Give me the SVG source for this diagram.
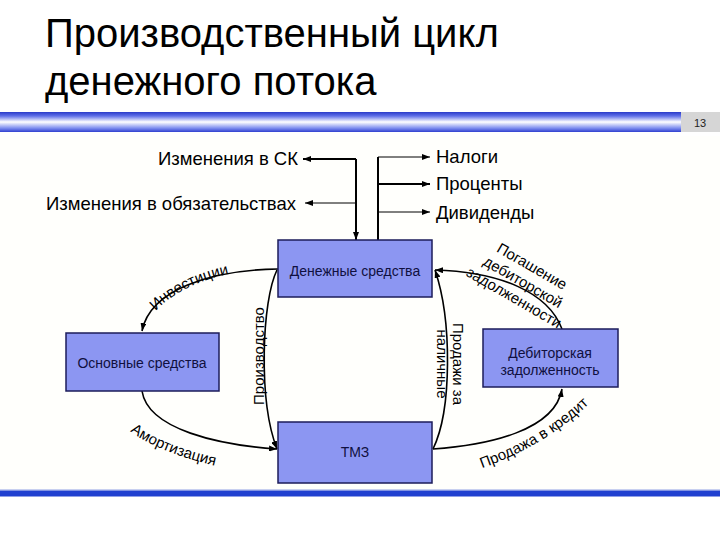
<svg xmlns="http://www.w3.org/2000/svg" width="720" height="540" viewBox="0 0 720 540">
<style>
.title{font-family:"Liberation Sans",Arial,sans-serif;font-size:40px;fill:#000}
.lbl{font-family:"Liberation Sans",Arial,sans-serif;font-size:18.5px;fill:#000}
.box{fill:#8c96f2;stroke:#1c1c5a;stroke-width:1.5}
.bt{font-family:"Liberation Sans",Arial,sans-serif;font-size:14px;fill:#101040;text-anchor:middle}
.cl{font-family:"Liberation Sans",Arial,sans-serif;font-size:15px;fill:#000}
.c{fill:none;stroke:#000;stroke-width:1.6}
.thin{fill:none;stroke:#000;stroke-width:1}
.thick{fill:none;stroke:#000;stroke-width:2}
</style>
<defs>
<linearGradient id="bar" x1="0" y1="0" x2="0" y2="1">
<stop offset="0" stop-color="#2a3ac8"/>
<stop offset="0.2" stop-color="#6070e8"/>
<stop offset="0.5" stop-color="#ffffff"/>
<stop offset="0.8" stop-color="#8090f0"/>
<stop offset="1" stop-color="#3040d0"/>
</linearGradient>
<marker id="ah" viewBox="0 0 8 6" refX="8" refY="3" markerWidth="8" markerHeight="6" markerUnits="userSpaceOnUse" orient="auto">
<path d="M0,0 L8,3 L0,6 z" fill="#000"/>
</marker>
<path id="p-inv" d="M144,330 C156,298 201,276 251,270"/>
<path id="p-am" d="M122,425 C145,445 180,458 225,468"/>
<path id="p-cr" d="M470,472 C510,460 560,435 598,395"/>
</defs>
<rect x="0" y="0" width="720" height="540" fill="#ffffff"/>
<rect x="0" y="136" width="720" height="354" fill="#fffffc"/>
<text class="title" x="45" y="47">Производственный цикл</text>
<text class="title" x="45" y="95">денежного потока</text>
<rect x="0" y="112" width="681" height="20" fill="url(#bar)"/>
<rect x="681" y="112" width="39" height="20" fill="#d6d6d6"/>
<text x="700" y="127" font-family="Liberation Sans,Arial,sans-serif" font-size="11" text-anchor="middle" fill="#222">13</text>
<rect x="0" y="489" width="720" height="1.5" fill="#c8d0f0"/>
<rect x="0" y="490.5" width="720" height="6" fill="#2040d0"/>

<g id="connectors">
<path class="thick" d="M356,159 L356,240" marker-end="url(#ah)"/>
<path class="thick" d="M356,159 L303,159" marker-end="url(#ah)"/>
<path class="thin" d="M356,203 L305,203" marker-end="url(#ah)"/>
<path class="thick" d="M378,240 L378,157"/>
<path class="thin" d="M378,157 L430,157" marker-end="url(#ah)"/>
<path class="thick" d="M378,184 L430,184" marker-end="url(#ah)"/>
<path class="thin" d="M378,212 L430,212" marker-end="url(#ah)"/>
<path class="c" d="M278,269 C210,270 150,290 142,331" marker-end="url(#ah)"/>
<path class="c" d="M277,270 C262,300 258,400 277,449" marker-end="url(#ah)"/>
<path class="c" d="M142,391 C148,430 220,445 277,449" marker-end="url(#ah)"/>
<path class="c" d="M433,449 C452,410 452,320 435,270" marker-end="url(#ah)"/>
<path class="c" d="M562,329 C548,292 500,272 435,270" marker-end="url(#ah)"/>
<path class="c" d="M433,449 C490,445 555,430 562,389" marker-end="url(#ah)"/>
<text class="lbl" x="298" y="165" text-anchor="end">Изменения в СК</text>
<text class="lbl" x="296" y="210" text-anchor="end">Изменения в обязательствах</text>
<text class="lbl" x="436" y="163">Налоги</text>
<text class="lbl" x="436" y="190">Проценты</text>
<text class="lbl" x="436" y="219">Дивиденды</text>
<text class="cl"><textPath href="#p-inv" startOffset="50%" text-anchor="middle">Инвестиции</textPath></text>
<text class="cl"><textPath href="#p-am" startOffset="50%" text-anchor="middle">Амортизация</textPath></text>
<text class="cl"><textPath href="#p-cr" startOffset="50%" text-anchor="middle">Продажа в кредит</textPath></text>
<text class="cl" transform="translate(264,356) rotate(-90)" text-anchor="middle">Производство</text>
<g class="cl" transform="translate(453,364) rotate(90)" text-anchor="middle">
<text x="0" y="0">Продажи за</text>
<text x="0" y="16">наличные</text>
</g>
<g class="cl" transform="translate(523,282) rotate(30)" text-anchor="middle">
<text x="0" y="-13">Погашение</text>
<text x="0" y="5">дебиторской</text>
<text x="0" y="23">задолженности</text>
</g>
</g>

<g id="node-cash">
<rect class="box" x="278" y="240" width="154" height="57"/>
<text class="bt" x="355" y="276">Денежные средства</text>
</g>
<g id="node-fixed">
<rect class="box" x="66" y="333" width="153" height="58"/>
<text class="bt" x="142" y="368">Основные средства</text>
</g>
<g id="node-inv">
<rect class="box" x="278" y="422" width="154" height="61"/>
<text class="bt" x="355" y="457">ТМЗ</text>
</g>
<g id="node-rec">
<rect class="box" x="483" y="329" width="135" height="58"/>
<text class="bt" x="550" y="358">Дебиторская</text>
<text class="bt" x="550" y="375">задолженность</text>
</g>
</svg>
